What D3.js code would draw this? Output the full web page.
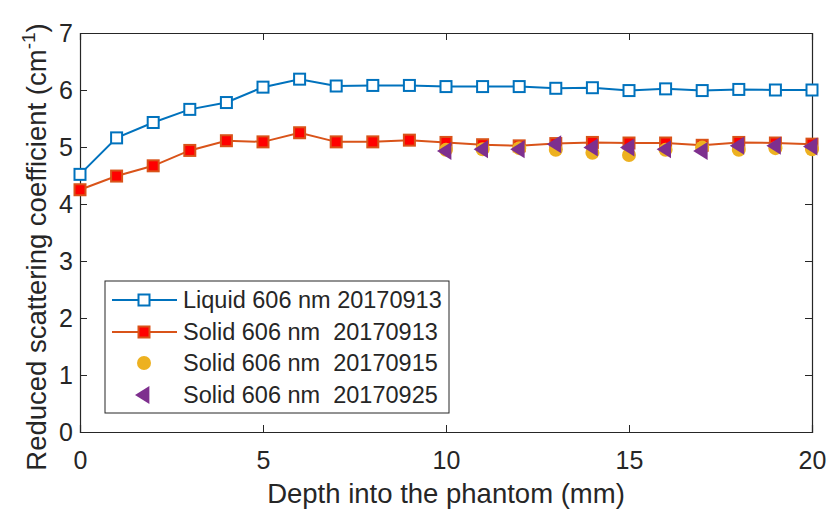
<!DOCTYPE html>
<html><head><meta charset="utf-8">
<script src="https://cdn.jsdelivr.net/npm/d3@7"></script>
<style>body{margin:0;background:#fff}svg{display:block}text{font-family:"Liberation Sans",Arial,sans-serif;fill:#262626;white-space:pre}</style>
</head><body><svg id="c" width="827" height="514"></svg>
<script>
const depth = d3.range(0, 21);
const liquid0913 = [4.52,5.16,5.43,5.66,5.78,6.05,6.19,6.07,6.08,6.08,6.06,6.06,6.06,6.03,6.04,5.99,6.02,5.99,6.01,6.00,6.00];
const solid0913 = [4.25,4.49,4.67,4.94,5.11,5.09,5.25,5.09,5.09,5.12,5.08,5.04,5.02,5.06,5.08,5.07,5.07,5.03,5.08,5.07,5.05];
const depthLate = d3.range(10, 21);
const solid0915 = [4.95,4.96,4.98,4.95,4.90,4.86,4.95,4.99,4.95,4.98,4.96];
const solid0925 = [4.93,4.96,4.96,5.05,4.99,4.99,4.96,4.93,5.02,5.02,5.01];
const xTicks = [0,5,10,15,20];
const yTicks = [0,1,2,3,4,5,6,7];
const legendLabels = ["Liquid 606 nm 20170913","Solid 606 nm  20170913","Solid 606 nm  20170915","Solid 606 nm  20170925"];

const svg = d3.select("#c");
const L=80,R=812,T=33,B=432;
const x = d3.scaleLinear().domain([0,20]).range([L,R]);
const y = d3.scaleLinear().domain([0,7]).range([B,T]);
const ax="#262626";

// axes
svg.append("g").attr("transform",`translate(0,${B})`)
  .call(d3.axisBottom(x).tickValues(xTicks).tickSize(-7).tickPadding(19).tickFormat(d3.format("d")));
svg.append("g").attr("transform",`translate(${L},0)`)
  .call(d3.axisLeft(y).tickValues(yTicks).tickSize(-7).tickPadding(7).tickFormat(d3.format("d")));
svg.append("g").attr("transform",`translate(0,${T})`)
  .call(d3.axisTop(x).tickValues(xTicks).tickSize(-7).tickFormat(""));
svg.append("g").attr("transform",`translate(${R},0)`)
  .call(d3.axisRight(y).tickValues(yTicks).tickSize(-7).tickFormat(""));
svg.selectAll(".domain").attr("stroke",ax).attr("stroke-width",1.2);
svg.selectAll(".tick line").attr("stroke",ax).attr("stroke-width",1);
svg.selectAll(".tick text").attr("font-size",25).style("font-family","Liberation Sans, Arial, sans-serif").attr("fill",ax);

// labels
svg.append("text").attr("x",(L+R)/2).attr("y",503).attr("text-anchor","middle").attr("font-size",27.5).text("Depth into the phantom (mm)");
const yl = svg.append("text").attr("transform",`translate(46,247) rotate(-90)`).attr("text-anchor","middle").attr("font-size",27.5);
yl.append("tspan").text("Reduced scattering coefficient (cm");
yl.append("tspan").attr("dy",-11).attr("font-size",19).text("-1");
yl.append("tspan").attr("dy",11).text(")");

const blue="#0072BD", orange="#D95319", yellow="#EDB120", purple="#7E2F8E";
const line = d3.line().x(d=>x(d[0])).y(d=>y(d[1]));

// liquid
svg.append("path").datum(depth.map((d,i)=>[d,liquid0913[i]])).attr("d",line).attr("fill","none").attr("stroke",blue).attr("stroke-width",2);
svg.append("g").selectAll("rect").data(depth.map((d,i)=>[d,liquid0913[i]])).join("rect")
  .attr("x",d=>x(d[0])-5.5).attr("y",d=>y(d[1])-5.5).attr("width",11).attr("height",11)
  .attr("fill","#fff").attr("stroke",blue).attr("stroke-width",2);
// solid 0913
svg.append("path").datum(depth.map((d,i)=>[d,solid0913[i]])).attr("d",line).attr("fill","none").attr("stroke",orange).attr("stroke-width",2);
svg.append("g").selectAll("rect").data(depth.map((d,i)=>[d,solid0913[i]])).join("rect")
  .attr("x",d=>x(d[0])-5.5).attr("y",d=>y(d[1])-5.5).attr("width",11).attr("height",11)
  .attr("fill","#FF0000").attr("stroke",orange).attr("stroke-width",2);
// solid 0915
svg.append("g").selectAll("circle").data(depthLate.map((d,i)=>[d,solid0915[i]])).join("circle")
  .attr("cx",d=>x(d[0])).attr("cy",d=>y(d[1])).attr("r",7).attr("fill",yellow);
// solid 0925
const tri = (cx,cy,s)=>`M${cx-s},${cy}L${cx+s*0.6},${cy-s}L${cx+s*0.6},${cy+s}Z`;
svg.append("g").selectAll("path").data(depthLate.map((d,i)=>[d,solid0925[i]])).join("path")
  .attr("d",d=>tri(x(d[0]),y(d[1]),9)).attr("fill",purple);

// legend
const lg = svg.append("g");
lg.append("rect").attr("x",105).attr("y",281).attr("width",344).attr("height",132).attr("fill","#fff").attr("stroke",ax).attr("stroke-width",1);
const ly=[300,332,363,395];
legendLabels.forEach((t,i)=>{
  const yy=ly[i];
  if(i<2){
    lg.append("line").attr("x1",112).attr("x2",177).attr("y1",yy).attr("y2",yy).attr("stroke",i?orange:blue).attr("stroke-width",2);
    lg.append("rect").attr("x",144-5.5).attr("y",yy-5.5).attr("width",11).attr("height",11)
      .attr("fill",i?"#FF0000":"#fff").attr("stroke",i?orange:blue).attr("stroke-width",2);
  } else if(i===2){
    lg.append("circle").attr("cx",144).attr("cy",yy).attr("r",7).attr("fill",yellow);
  } else {
    lg.append("path").attr("d",tri(144,yy,9)).attr("fill",purple);
  }
  lg.append("text").attr("x",183).attr("y",yy+8).attr("font-size",23.5).attr("fill","#000").text(t);
});
</script></body></html>
